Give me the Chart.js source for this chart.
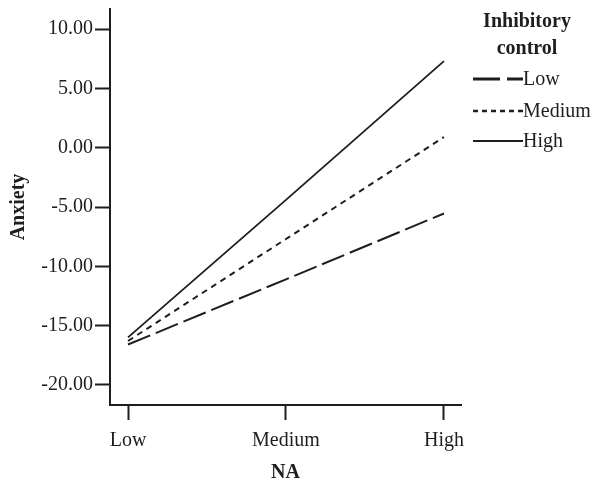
<!DOCTYPE html>
<html>
<head>
<meta charset="utf-8">
<script src="https://cdn.jsdelivr.net/npm/chart.js@4"></script>
<style>
  html, body { margin: 0; padding: 0; background: #fff; }
  #wrap { width: 594px; height: 483px; position: relative; }
</style>
</head>
<body>
<div id="wrap"><canvas id="c" width="594" height="483"></canvas></div>
<script>
const categories = ['Low', 'Medium', 'High'];
const seriesNames = ['Low', 'Medium', 'High'];
const lowIC = [-16.6, -11.1, -5.55];
const mediumIC = [-16.3, -7.7, 0.9];
const highIC = [-16.0, -4.4, 7.3];
const yTicks = [-20, -15, -10, -5, 0, 5, 10];
const legendTitle = ['Inhibitory', 'control'];
const xTitle = 'NA';
const yTitle = 'Anxiety';

const INK = '#1e1e1e';
const SERIF = '"Liberation Serif", "Times New Roman", serif';

function pts(arr) { return arr.map((v, i) => ({ x: i, y: v })); }

const dashes = [[24, 6], [6, 5], []];
const widths = [2, 2, 1.8];
const legendDashes = [[27, 7], [5, 4], []];
const legendWidths = [3, 2.5, 1.8];
const seriesData = [lowIC, mediumIC, highIC];

const legendPlugin = {
  id: 'customLegend',
  afterDraw(chart) {
    const ctx = chart.ctx;
    ctx.save();
    ctx.fillStyle = INK;
    ctx.textAlign = 'center';
    ctx.textBaseline = 'middle';
    ctx.font = 'bold 20px ' + SERIF;
    ctx.fillText(legendTitle[0], 527, 22);
    ctx.fillText(legendTitle[1], 527, 49);
    const rows = [79, 111, 141];
    chart.data.datasets.forEach((ds, i) => {
      const y = rows[i];
      ctx.strokeStyle = ds.borderColor;
      ctx.lineWidth = legendWidths[i];
      ctx.setLineDash(legendDashes[i]);
      ctx.beginPath();
      ctx.moveTo(473, y);
      ctx.lineTo(523, y);
      ctx.stroke();
      ctx.setLineDash([]);
      ctx.textAlign = 'left';
      ctx.font = '20px ' + SERIF;
      ctx.fillText(ds.label, 523, y + 1);
    });
    ctx.restore();
  }
};

new Chart(document.getElementById('c'), {
  type: 'line',
  data: {
    datasets: seriesNames.map((name, i) => ({
      label: name,
      data: pts(seriesData[i]),
      borderColor: INK,
      borderWidth: widths[i],
      borderDash: dashes[i],
      pointRadius: 0,
      fill: false,
      tension: 0
    }))
  },
  options: {
    responsive: false,
    animation: false,
    layout: { padding: { left: 0, top: 9, right: 133, bottom: 0 } },
    plugins: { legend: { display: false }, tooltip: { enabled: false } },
    scales: {
      x: {
        type: 'linear',
        position: 'bottom',
        min: -0.114,
        max: 2.108,
        afterBuildTicks: s => { s.ticks = categories.map((c, i) => ({ value: i })); },
        afterFit: s => { s.height = 78; s.paddingLeft = 0; s.paddingRight = 0; },
        ticks: {
          callback: v => categories[v],
          color: INK,
          font: { family: SERIF, size: 20 },
          padding: 9,
          maxRotation: 0,
          autoSkip: false
        },
        grid: { drawOnChartArea: false, drawTicks: true, tickLength: 15, tickWidth: 2, tickColor: INK },
        border: { display: true, width: 2, color: INK },
        title: { display: true, text: xTitle, color: INK, font: { family: SERIF, size: 20, weight: 'bold', lineHeight: 1.0 }, padding: { top: 0, bottom: 0 } }
      },
      y: {
        type: 'linear',
        position: 'left',
        min: -21.7,
        max: 11.7,
        afterBuildTicks: s => { s.ticks = yTicks.map(v => ({ value: v })); },
        afterFit: s => { s.width = 110; s.paddingTop = 0; s.paddingBottom = 0; },
        ticks: {
          callback: v => v.toFixed(2),
          color: INK,
          font: { family: SERIF, size: 20 },
          padding: 2
        },
        grid: { drawOnChartArea: false, drawTicks: true, tickLength: 15, tickWidth: 2, tickColor: INK },
        border: { display: true, width: 2, color: INK },
        title: { display: true, text: yTitle, color: INK, font: { family: SERIF, size: 20, weight: 'bold' }, padding: { top: 7, bottom: 0 } }
      }
    }
  },
  plugins: [legendPlugin]
});
</script>
</body>
</html>
